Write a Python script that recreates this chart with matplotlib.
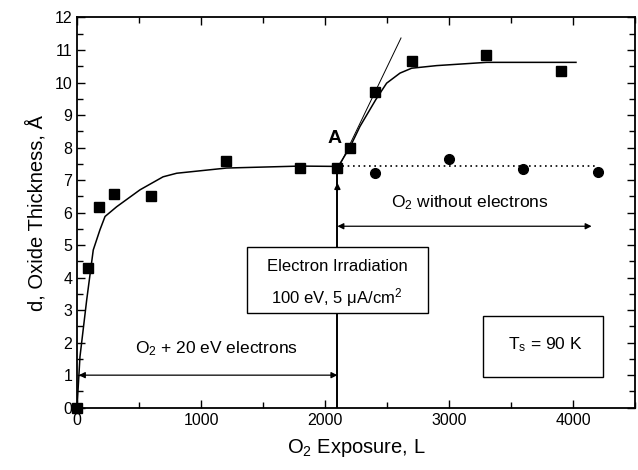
import matplotlib
matplotlib.use("Agg")
import matplotlib.pyplot as plt
from matplotlib.ticker import MultipleLocator
from matplotlib.patches import Rectangle

plt.rcParams['font.family'] = ['Liberation Sans', 'DejaVu Sans']
plt.rcParams['mathtext.fontset'] = 'custom'
plt.rcParams['mathtext.rm'] = 'Liberation Sans'
plt.rcParams['mathtext.it'] = 'Liberation Sans:italic'
plt.rcParams['mathtext.default'] = 'regular'

# Data (squares: with electrons; circles: without electrons)
sq_x = [0, 88, 180, 300, 600, 1200, 1800, 2100, 2200, 2400, 2700, 3300, 3900]
sq_y = [0, 4.29, 6.17, 6.57, 6.52, 7.6, 7.38, 7.38, 8.0, 9.72, 10.67, 10.85, 10.35]
ci_x = [2400, 3000, 3600, 4200]
ci_y = [7.21, 7.65, 7.34, 7.26]

# Fit curves
fit1_x = [0, 24, 78, 131, 185, 226, 320, 508, 694, 804, 1207, 1798, 2100]
fit1_y = [0, 1.57, 3.31, 4.85, 5.47, 5.88, 6.18, 6.7, 7.1, 7.21, 7.37, 7.43, 7.42]
fit2_x = [2100, 2200, 2282, 2409, 2497, 2605, 2699, 2900, 3304, 4024]
fit2_y = [7.38, 8.0, 8.65, 9.47, 9.98, 10.29, 10.44, 10.52, 10.62, 10.62]
tan_x = [2100, 2613]
tan_y = [7.3, 11.37]
dot_x = [2100, 4200]
dot_y = [7.42, 7.42]

fig = plt.figure(figsize=(6.38, 4.70), dpi=100)
ax = fig.add_axes([0.1207, 0.1326, 0.8746, 0.8302])

ax.plot(fit1_x, fit1_y, color='black', lw=1.1, zorder=3)
ax.plot(fit2_x, fit2_y, color='black', lw=1.1, zorder=3)
ax.plot(tan_x, tan_y, color='black', lw=0.7, zorder=3)
ax.plot(dot_x, dot_y, color='black', lw=1.2, ls=(0, (1, 2.2)), zorder=3)
ax.plot(sq_x, sq_y, ls='none', marker='s', ms=7, color='black', zorder=5, clip_on=False)
ax.plot(ci_x, ci_y, ls='none', marker='o', ms=7, color='black', zorder=5)

# vertical line at 2100
ax.plot([2100, 2100], [0, 7.38], color='black', lw=1.4, zorder=2)
ax.annotate('', xy=(2100, 7.0), xytext=(2100, 6.6),
            arrowprops=dict(arrowstyle='-|>', color='black', lw=1.0, mutation_scale=9), zorder=2)

# double arrows
ax.annotate('', xy=(15, 1.0), xytext=(2100, 1.0),
            arrowprops=dict(arrowstyle='<|-|>', color='black', lw=0.9, mutation_scale=9,
                            shrinkA=0, shrinkB=0))
ax.annotate('', xy=(2100, 5.58), xytext=(4150, 5.58),
            arrowprops=dict(arrowstyle='<|-|>', color='black', lw=0.9, mutation_scale=9,
                            shrinkA=0, shrinkB=0))

ax.text(1126, 1.8, 'O$_2$ + 20 eV electrons', ha='center', va='center', fontsize=12.5)
ax.text(3170, 6.3, 'O$_2$ without electrons', ha='center', va='center', fontsize=12.5)
ax.text(2077, 8.28, 'A', ha='center', va='center', fontsize=14, fontweight='bold')

# boxes
ax.add_patch(Rectangle((1368, 2.91), 1459, 2.03, fc='white', ec='black', lw=1.0, zorder=6))
ax.text(2097, 4.35, 'Electron Irradiation', ha='center', va='center', fontsize=12, zorder=7)
ax.text(2097, 3.40, '100 eV, 5 μA/cm$^2$', ha='center', va='center', fontsize=12, zorder=7)
ax.add_patch(Rectangle((3277, 0.95), 968, 1.88, fc='white', ec='black', lw=1.0, zorder=6))
ax.text(3774, 1.95, 'T$_s$ = 90 K', ha='center', va='center', fontsize=12.5, zorder=7)

ax.set_xlim(0, 4500)
ax.set_ylim(0, 12)
ax.xaxis.set_major_locator(MultipleLocator(1000))
ax.xaxis.set_minor_locator(MultipleLocator(500))
ax.yaxis.set_major_locator(MultipleLocator(1))
ax.yaxis.set_minor_locator(MultipleLocator(0.5))
ax.tick_params(which='both', direction='in', top=True, right=True, labelsize=11.5)
ax.tick_params(which='major', length=6, width=1.0)
ax.tick_params(which='minor', length=4, width=1.0)
for s in ax.spines.values():
    s.set_linewidth(1.3)

ax.set_xlabel('O$_2$ Exposure, L', fontsize=14.5, labelpad=7)
ax.set_ylabel('d, Oxide Thickness, Å', fontsize=14.5, labelpad=6)

fig.savefig('out.png', dpi=100)
